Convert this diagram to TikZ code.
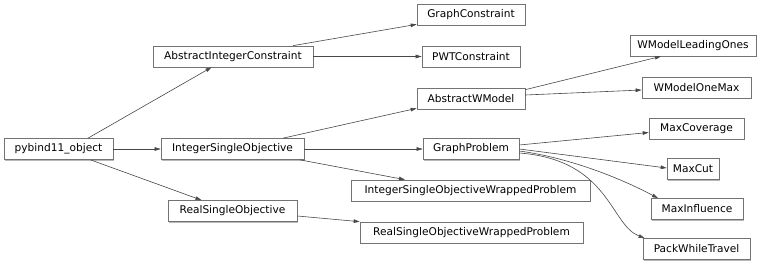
\documentclass[tikz,border=0pt]{standalone}
\usepackage{fontspec}
\setmainfont{DejaVu Sans}
\usetikzlibrary{arrows.meta,shadows}

\tikzset{
  cls/.style={draw=black!55, fill=white, line width=0.7pt,
    minimum height=21pt, inner sep=0pt, text=black,
    font=\fontsize{10.6}{12}\selectfont,
    drop shadow={shadow xshift=1.2pt, shadow yshift=-1.2pt,
      fill=black!28, opacity=1}},
  inh/.style={draw=black!72, line width=0.6pt,
    -{Triangle[length=6pt,width=3.6pt]}},
}

\begin{document}
\begin{tikzpicture}[x=1pt,y=-1pt]
\useasboundingbox (0,0) rectangle (768,268);

% column 1
\node[cls, minimum width=109pt] (pyb) at (58.5,149) {pybind11\_object};

% column 2
\node[cls, minimum width=160pt] (aic) at (233,56.5) {AbstractIntegerConstraint};
\node[cls, minimum width=143pt] (iso) at (232.5,149) {IntegerSingleObjective};
\node[cls, minimum width=129pt] (rso) at (232.5,211) {RealSingleObjective};

% column 3
\node[cls, minimum width=108pt] (gc)    at (471,14.5)  {GraphConstraint};
\node[cls, minimum width=98pt]  (pwtc)  at (471,56.5)  {PWTConstraint};
\node[cls, minimum width=108pt] (awm)   at (471,98.5)  {AbstractWModel};
\node[cls, minimum width=96pt]  (gp)    at (471,149)   {GraphProblem};
\node[cls, minimum width=239pt] (isowp) at (470.5,190.5) {IntegerSingleObjectiveWrappedProblem};
\node[cls, minimum width=223pt] (rsowp) at (471.5,232.5) {RealSingleObjectiveWrappedProblem};

% column 4
\node[cls, minimum width=126pt] (wmlo)  at (693,45.5)  {WModelLeadingOnes};
\node[cls, minimum width=109pt] (wmom)  at (696.5,87.5) {WModelOneMax};
\node[cls, minimum width=95pt]  (mcov)  at (696.5,128.5) {MaxCoverage};
\node[cls, minimum width=52pt]  (mcut)  at (693,169)   {MaxCut};
\node[cls, minimum width=92pt]  (minf)  at (697,209)   {MaxInfluence};
\node[cls, minimum width=107pt] (pwtr)  at (696.5,249) {PackWhileTravel};

% inheritance edges
\draw[inh] ([xshift=29.5pt]pyb.north) -- ([xshift=-21.5pt]aic.south);
\draw[inh] (pyb.east) -- (iso.west);
\draw[inh] ([xshift=32pt]pyb.south) -- ([xshift=-31pt]rso.north);

\draw[inh] ([xshift=60pt]aic.north) -- ([yshift=1pt]gc.south west);
\draw[inh] (aic.east) -- (pwtc.west);

\draw[inh] ([xshift=50.5pt]iso.north) -- ([yshift=1pt]awm.south west);
\draw[inh] (iso.east) -- (gp.west);
\draw[inh] ([xshift=67.5pt]iso.south) -- ([xshift=-65.5pt]isowp.north);

\draw[inh] ([yshift=-5pt]rso.east) -- (rsowp.north west);

\draw[inh] ([yshift=-2pt]awm.north east) -- ([xshift=-32pt]wmlo.south);
\draw[inh] ([yshift=3.5pt]awm.east) -- ([yshift=-2.5pt]wmom.west);

\draw[inh] ([yshift=4pt]gp.east) -- ([yshift=-4pt]mcov.west);
\draw[inh] (gp.east) -- ([yshift=1pt]mcut.west);
\draw[inh] ([yshift=-2pt]gp.east) .. controls (570,158) and (620,178) .. ([xshift=-39pt]minf.north);
\draw[inh] ([yshift=-4pt]gp.east) .. controls (610,160) and (610,225) .. ([xshift=2pt]pwtr.north west);

\end{tikzpicture}
\end{document}
